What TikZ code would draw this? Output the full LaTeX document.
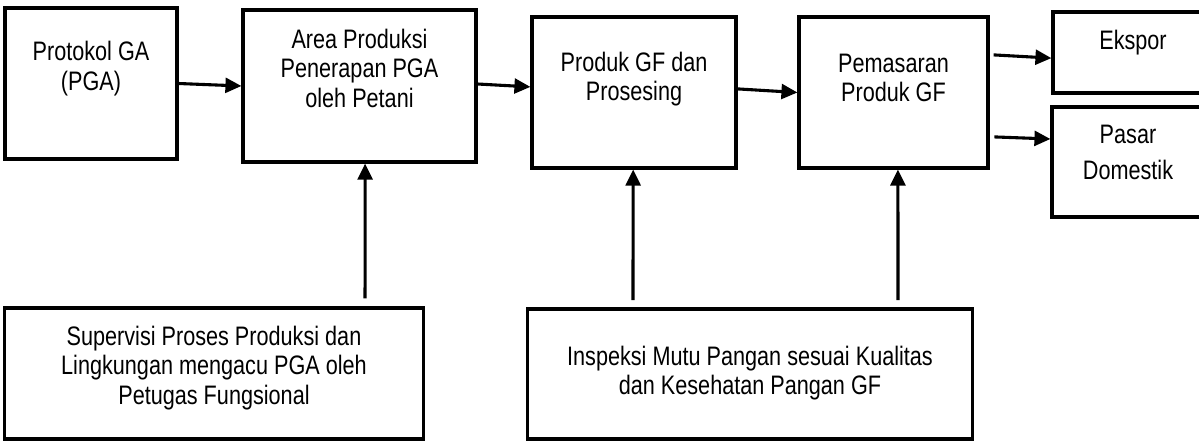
\documentclass[tikz,border=0pt]{standalone}
\usepackage{fontspec}
\setmainfont{Liberation Sans}[FakeStretch=0.81]
\usetikzlibrary{positioning,arrows.meta}

\begin{document}
\begin{tikzpicture}[
      x = 0.025cm, y = -0.025cm,
      box/.style = {draw, rectangle, line width = 2.2pt, inner sep = 0pt},
      txt/.style = {align = center, inner sep = 0pt, font = \fontsize{19}{21}\selectfont},
      arr/.style = {line width = 2.2pt, -{Triangle[length = 0.4cm, width = 0.37cm]}}
      ]
      \clip (0,0) rectangle (1199,441);
      \node[box, minimum width = 4.3cm, minimum height = 3.775cm] (pga) at (91,83.5) {};
      \node[box, minimum width = 5.825cm, minimum height = 3.8cm] (area) at (359.5,86) {};
      \node[box, minimum width = 5.1cm, minimum height = 3.775cm] (produk) at (634,92.5) {};
      \node[box, minimum width = 4.725cm, minimum height = 3.775cm] (pemasaran) at (893.5,92.5) {};
      \node[box, minimum width = 4cm, minimum height = 2.025cm] (ekspor) at (1133,52.5) {};
      \node[box, minimum width = 3.8cm, minimum height = 2.75cm] (pasar) at (1128,162) {};
      \node[box, minimum width = 10.45cm, minimum height = 3.275cm] (supervisi) at (214,373.5) {};
      \node[box, minimum width = 11.1cm, minimum height = 3.25cm] (inspeksi) at (750,374) {};

      \node[txt, below = 0.87cm of pga.north] (pgaText) {Protokol GA\\(PGA)};
      \node[txt, below = 0.5cm of area.north] (areaText) {Area Produksi\\Penerapan PGA\\oleh Petani};
      \node[txt, below = 0.9cm of produk.north] (produkText) {Produk GF dan\\Prosesing};
      \node[txt, below = 0.95cm of pemasaran.north] (pemasaranText) {Pemasaran\\Produk GF};
      \node[txt, below = 0.48cm of ekspor.north] (eksporText) {Ekspor};
      \node[txt, below = 0.48cm of pasar.north] (pasarText) {Pasar\\[5pt]Domestik};
      \node[txt, below = 0.48cm of supervisi.north] (supervisiText) {Supervisi Proses Produksi dan\\Lingkungan mengacu PGA oleh\\Petugas Fungsional};
      \node[txt, below = 0.95cm of inspeksi.north] (inspeksiText) {Inspeksi Mutu Pangan sesuai Kualitas\\dan Kesehatan Pangan GF};

      \draw[arr] (pga.east) -- (area.west);
      \draw[arr] ([yshift = 0.05cm]area.east) -- ([yshift = 0.14cm]produk.west);
      \draw[arr] ([yshift = 0.09cm]produk.east) -- (pemasaran.west);
      \draw[arr] ([xshift = 0.1cm, yshift = 0.94cm]pemasaran.east) -- ([yshift = -0.14cm]ekspor.west);
      \draw[arr] ([xshift = 0.12cm, yshift = -1.11cm]pemasaran.east) -- ([yshift = 0.575cm]pasar.west);
      \draw[arr] ([xshift = 3.775cm, yshift = 0.2cm]supervisi.north) -- ([xshift = 0.14cm]area.south);
      \draw[arr] ([xshift = -2.925cm, yshift = 0.18cm]inspeksi.north) -- ([xshift = -0.02cm]produk.south);
      \draw[arr] ([xshift = 3.7cm, yshift = 0.18cm]inspeksi.north) -- ([xshift = 0.11cm]pemasaran.south);
    \end{tikzpicture}
\end{document}
